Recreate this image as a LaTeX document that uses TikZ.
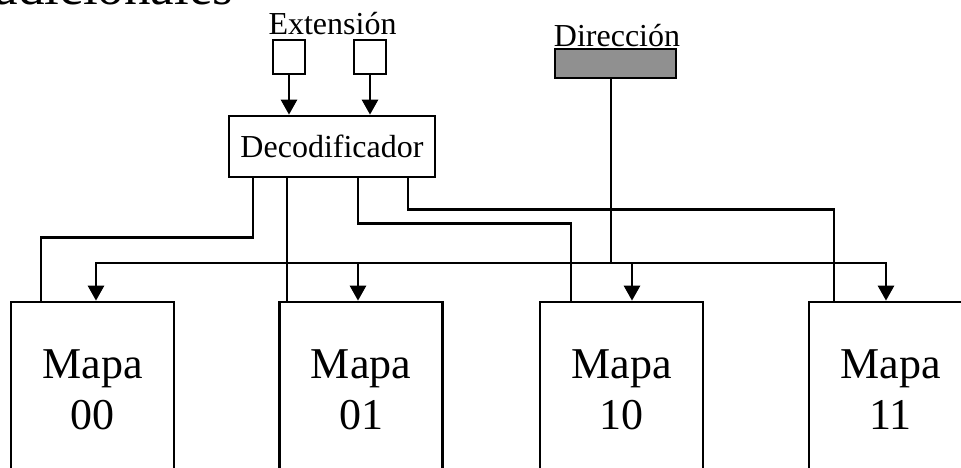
\documentclass[tikz,border=0pt]{standalone}
\usepackage{fontspec}
\setmainfont{Liberation Serif}
\usetikzlibrary{arrows.meta}
\definecolor{dirgray}{HTML}{909090}

\begin{document}
\begin{tikzpicture}[x=1pt, y=-1pt, line width=2.7pt, every node/.style={font=\fontsize{32}{38}\selectfont},
  box/.style={draw, inner sep=0pt},
  mapa/.style={box, minimum width=163pt, minimum height=176pt, align=center, font=\fontsize{44}{51}\selectfont},
  arr/.style={-{Triangle[width=16pt,length=15pt]}}]
\useasboundingbox (0,0) rectangle (961,468);
\clip (0,0) rectangle (961,468);

\node[anchor=base east, font=\fontsize{53}{60}\selectfont] (titulo) at (238,5) {adicionales};

\node[anchor=base] (extlbl) at (332.5,35) {Extensión};
\node[box, minimum width=32pt, minimum height=34pt] (ext1) at (289,57) {};
\node[box, minimum width=32pt, minimum height=34pt] (ext2) at (370,57) {};
\node[box, minimum width=206pt, minimum height=61pt] (dec) at (332,146.5) {Decodificador};

\node[anchor=base] (dirlbl) at (617,47) {Dirección};
\node[box, fill=dirgray, minimum width=121pt, minimum height=29pt] (dir) at (615.5,63.5) {};

\node[mapa] (m00) at (92.5,390) {Mapa\\00};
\node[mapa] (m01) at (361,390) {Mapa\\01};
\node[mapa] (m10) at (621.5,390) {Mapa\\10};
\node[mapa] (m11) at (890.5,390) {Mapa\\11};

\draw[arr] (ext1.south) -- (ext1.south |- dec.north);
\draw[arr] (ext2.south) -- (ext2.south |- dec.north);

% salidas del decodificador
\draw ([xshift=-79pt]dec.south) -- ++(0,59) -| ([xshift=-51.5pt]m00.north);
\draw ([xshift=-45pt]dec.south) -- ([xshift=-74pt]m01.north);
\draw ([xshift=26pt]dec.south) -- ++(0,45) -| ([xshift=-50.5pt]m10.north);
\draw ([xshift=76pt]dec.south) -- ++(0,31) -| ([xshift=-56.5pt]m11.north);

% bus de direccion
\coordinate (bus) at (611,263);
\draw ([xshift=-4.5pt]dir.south) -- (bus);
\draw[arr] (bus) -| ([xshift=3.5pt]m00.north);
\draw[arr] (bus) -| ([xshift=-3pt]m01.north);
\draw[arr] (bus) -| ([xshift=10.5pt]m10.north);
\draw[arr] (bus) -| ([xshift=-4.5pt]m11.north);
\end{tikzpicture}
\end{document}
